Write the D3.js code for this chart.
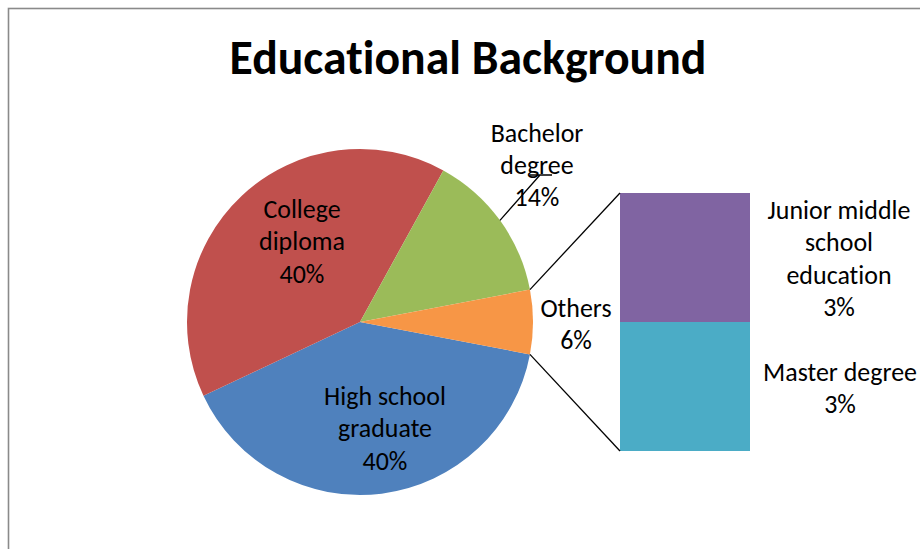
<!DOCTYPE html>
<html>
<head>
<meta charset="utf-8">
<script src="https://cdn.jsdelivr.net/npm/d3@7/dist/d3.min.js"></script>
<style>
  html, body { margin: 0; padding: 0; background: #fff; }
  svg { display: block; }
  text { font-family: Carlito, Calibri, Lato, "Open Sans", sans-serif; fill: #000;
         font-variant-ligatures: none; font-feature-settings: "liga" 0, "clig" 0; }
</style>
</head>
<body>
<svg id="chart" width="920" height="549"></svg>
<script>
// Main pie: categories and shares (%)
const pieCategories = ["High school graduate", "College diploma", "Bachelor degree", "Others"];
const pieValues = [40, 40, 14, 6];
const pieColors = ["#4F81BD", "#C0504D", "#9BBB59", "#F79646"];

// Breakdown of "Others" shown in the stacked bar
const barCategories = ["Master degree", "Junior middle school education"];
const barValues = [3, 3];
const barColors = ["#4BACC6", "#8064A2"];

const title = "Educational Background";

// Label text lines per slice / segment
const pieLabelLines = [
  ["High school", "graduate"],
  ["College", "diploma"],
  ["Bachelor", "degree"],
  ["Others"]
];
const barLabelLines = [
  ["Master degree"],
  ["Junior middle", "school", "education"]
];

const svg = d3.select("#chart");
const W = 920, H = 549;

// Chart frame (extends past the right and bottom edges)
svg.append("rect")
  .attr("x", 8.5).attr("y", 8.5)
  .attr("width", W).attr("height", H)
  .attr("fill", "#fff")
  .attr("stroke", "#8a8a8a").attr("stroke-width", 1.6);

// Fit a font size so a sample string reaches a given width
function fitSize(sample, targetWidth, weight) {
  const t = svg.append("text").attr("font-size", 100).attr("font-weight", weight).text(sample);
  const w = t.node().getComputedTextLength();
  t.remove();
  return 100 * targetWidth / w;
}
const labelSize = fitSize("Master degree", 154, "normal");
const titleSize = fitSize(title, 477, "bold");
const lineH = 32.3;

// Title
svg.append("text")
  .attr("x", 468).attr("y", 74)
  .attr("text-anchor", "middle")
  .attr("font-weight", "bold")
  .attr("font-size", titleSize)
  .text(title);

// Pie geometry
const cx = 360, cy = 322, R = 173;
const total = d3.sum(pieValues);
const othersIdx = pieCategories.indexOf("Others");
// Rotate so the "Others" slice is centred on the right-hand horizontal
const othersSpan = 2 * Math.PI * pieValues[othersIdx] / total;
const start = Math.PI / 2 + othersSpan / 2;

const pie = d3.pie().sort(null).value(d => d)
  .startAngle(start).endAngle(start + 2 * Math.PI);
const arcs = pie(pieValues);
const arc = d3.arc().innerRadius(0).outerRadius(R);

const g = svg.append("g").attr("transform", `translate(${cx},${cy})`);
g.selectAll("path.slice")
  .data(arcs)
  .join("path")
  .attr("class", "slice")
  .attr("d", arc)
  .attr("fill", (d, i) => pieColors[i]);

// polar helper (d3 angle: 0 at top, clockwise)
const polar = (a, r) => [Math.sin(a) * r, -Math.cos(a) * r];

// Stacked bar for the "Others" breakdown
const barX0 = 620, barX1 = 750;
const yBar = d3.scaleLinear().domain([0, d3.sum(barValues)]).range([451, 193]);
const stacked = [];
let acc = 0;
barValues.forEach((v, i) => { stacked.push({ y0: acc, y1: acc + v, i }); acc += v; });

svg.selectAll("rect.seg")
  .data(stacked)
  .join("rect")
  .attr("class", "seg")
  .attr("x", barX0)
  .attr("width", barX1 - barX0)
  .attr("y", d => yBar(d.y1))
  .attr("height", d => yBar(d.y0) - yBar(d.y1))
  .attr("fill", d => barColors[d.i]);

// Connector lines from the "Others" slice edges to the bar corners
const oa = arcs[othersIdx];
const pA = polar(oa.startAngle, R);
const pB = polar(oa.endAngle, R);
const edgePts = [[cx + pA[0], cy + pA[1]], [cx + pB[0], cy + pB[1]]]
  .sort((a, b) => a[1] - b[1]);
const lines = [
  [edgePts[0], [barX0, yBar(d3.sum(barValues))]],
  [edgePts[1], [barX0, yBar(0)]]
];
svg.selectAll("line.conn")
  .data(lines)
  .join("line")
  .attr("class", "conn")
  .attr("x1", d => d[0][0]).attr("y1", d => d[0][1])
  .attr("x2", d => d[1][0]).attr("y2", d => d[1][1])
  .attr("stroke", "#000").attr("stroke-width", 1.3);

// Label placement (centre x, first baseline) for each pie slice / bar segment
const pieLabelPos = [
  [385, 405],
  [302, 218],
  [537, 141.5],
  [576, 316.5]
];
const barLabelPos = [
  [840, 380.5],
  [839, 219]
];

function drawLabel(pos, lines, value) {
  const t = svg.append("text")
    .attr("text-anchor", "middle")
    .attr("font-size", labelSize);
  const all = lines.concat([value + "%"]);
  all.forEach((s, k) => {
    t.append("tspan").attr("x", pos[0]).attr("y", pos[1] + k * lineH).text(s);
  });
}

// Leader line for the Bachelor degree label
const ba = arcs[pieCategories.indexOf("Bachelor degree")];
const bp = polar((ba.startAngle + ba.endAngle) / 2, R);
svg.append("path")
  .attr("d", `M${cx + bp[0]},${cy + bp[1]} L540,175 M530,175 L552,175`)
  .attr("fill", "none")
  .attr("stroke", "#000").attr("stroke-width", 1.3);

pieValues.forEach((v, i) => drawLabel(pieLabelPos[i], pieLabelLines[i], v));
barValues.forEach((v, i) => drawLabel(barLabelPos[i], barLabelLines[i], v));
</script>
</body>
</html>
